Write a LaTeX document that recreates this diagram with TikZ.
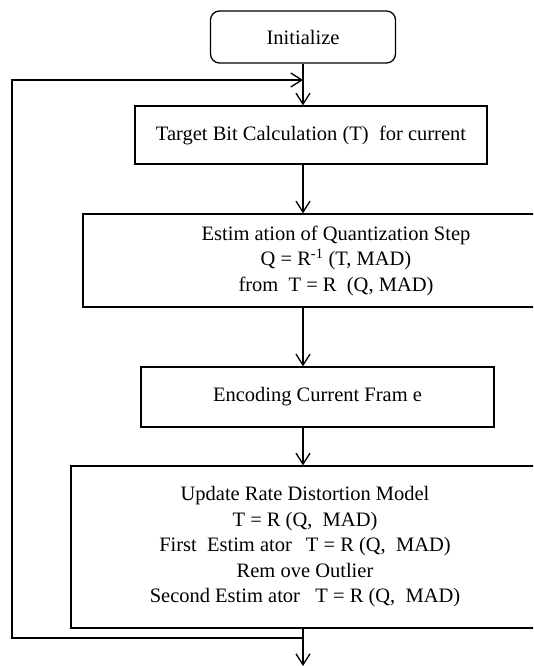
\documentclass[tikz,border=0pt]{standalone}
\usepackage{fontspec}
\setmainfont{Liberation Serif}
\usetikzlibrary{arrows.meta}

\begin{document}
\begin{tikzpicture}[x=1pt,y=-1pt,line width=1.3pt,
    >={Straight Barb[length=11pt,width=14pt]},
    box/.style={draw,rectangle,align=center,inner sep=0pt,
      font=\fontsize{20.5}{25.5}\selectfont}]
  \useasboundingbox (0,0) rectangle (533,666);
  \clip (0,0) rectangle (533,666);
  \draw node (init) [box,rounded corners=9pt,minimum width=185pt,minimum height=52pt] at (303,37) {Initialize}
        node (target) [box,minimum width=352pt,minimum height=58pt] at (311,135) {Target Bit Calculation (T)\ \ for current}
        node (estim) [box,minimum width=506pt,minimum height=93pt] at (336,260.5)
          {Estim ation of Quantization Step\\ Q = R\textsuperscript{-1} (T, MAD)\\ from\ \ T = R\ \ (Q, MAD)}
        node (encode) [box,minimum width=353pt,minimum height=60pt] at (317.5,397) {Encoding Current Fram e}
        node (update) [box,minimum width=468pt,minimum height=162pt] at (305,547)
          {Update Rate Distortion Model\\ T = R (Q,\ \ MAD)\\
           First\ \ Estim ator\hspace{14pt}T = R (Q,\ \ MAD)\\ Rem ove Outlier\\
           Second Estim ator\ \ \ T = R (Q,\ \ MAD)};
  \coordinate (out) at (303,666);
  \coordinate (lbot) at (12,638);
  \coordinate (ltop) at (12,80);
  % main flow
  \draw[->] (init) -- (init.south |- target.north);
  \draw[->] (init.south |- target.south) -- (init.south |- estim.north);
  \draw[->] (init.south |- estim.south) -- (init.south |- encode.north);
  \draw[->] (init.south |- encode.south) -- (init.south |- update.north);
  \draw[->] (init.south |- update.south) -- (out);
  % loop back
  \draw[->] (out |- lbot) -- (lbot) -- (ltop) -- (ltop -| init.south);
\end{tikzpicture}
\end{document}
